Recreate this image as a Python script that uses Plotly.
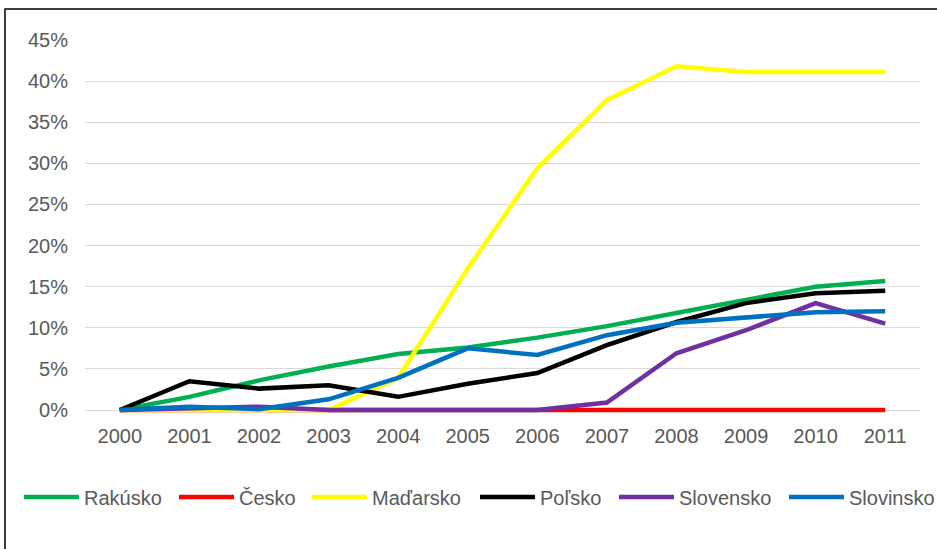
import plotly.graph_objects as go

years = ["2000", "2001", "2002", "2003", "2004", "2005", "2006", "2007", "2008", "2009", "2010", "2011"]

rakusko = [0.0, 1.6, 3.6, 5.3, 6.8, 7.6, 8.8, 10.2, 11.8, 13.4, 15.0, 15.7]
cesko = [0.0, 0.0, 0.0, 0.0, 0.0, 0.0, 0.0, 0.0, 0.0, 0.0, 0.0, 0.0]
madarsko = [0.0, 0.0, 0.0, 0.0, 3.9, 17.2, 29.4, 37.7, 41.8, 41.1, 41.1, 41.1]
polsko = [0.0, 3.5, 2.6, 3.0, 1.6, 3.2, 4.5, 7.9, 10.7, 13.0, 14.2, 14.5]
slovensko = [0.0, 0.2, 0.4, 0.0, 0.0, 0.0, 0.0, 0.9, 6.9, 9.7, 13.0, 10.5]
slovinsko = [0.0, 0.4, 0.1, 1.3, 3.9, 7.5, 6.7, 9.1, 10.6, 11.3, 11.9, 12.0]

series_names = ["Rakúsko", "Česko", "Maďarsko", "Poľsko", "Slovensko", "Slovinsko"]
series_values = [rakusko, cesko, madarsko, polsko, slovensko, slovinsko]
series_colors = ["#00b050", "#ff0000", "#ffff00", "#000000", "#7030a0", "#0070c0"]
legend_left_px = [19, 174, 307, 475, 614, 784]

W, H = 937, 549
L, R, T = 85, 17, 40
ZERO_PX = 410          # pixel row of the 0% line
PAD_BELOW = 4          # extra plot room below 0 so the thick lines at 0 are not clipped
B = H - ZERO_PX - PAD_BELOW
pw = W - L - R
ph0 = ZERO_PX - T      # pixel height of 0..45%
y_top = 0.45
y_bottom = -PAD_BELOW / ph0 * y_top
ph = H - T - B

def px_to_paper_x(px):
    return (px - L) / pw

def px_to_paper_y(py):
    return (H - B - py) / ph

font = dict(family="Liberation Sans, Arial, sans-serif", size=20, color="#595959")

fig = go.Figure()
legends = {}
for i, (name, vals, col, lx) in enumerate(zip(series_names, series_values, series_colors, legend_left_px)):
    key = "legend" if i == 0 else f"legend{i + 1}"
    fig.add_trace(go.Scatter(
        x=years, y=[v / 100 for v in vals], name=name, mode="lines",
        line=dict(color=col, width=4.5), legend=key,
    ))
    legends[key] = dict(
        orientation="h", x=px_to_paper_x(lx), xanchor="left",
        y=px_to_paper_y(497), yanchor="middle",
        font=font, itemwidth=55, bgcolor="rgba(0,0,0,0)",
    )

fig.update_layout(
    width=W, height=H,
    margin=dict(l=L, r=R, t=T, b=B, pad=0, autoexpand=False),
    paper_bgcolor="white", plot_bgcolor="white",
    font=font,
    showlegend=True,
    xaxis=dict(
        type="category", range=[-0.5, 11.5], showgrid=False, zeroline=False,
        showline=False, ticks="", tickfont=font, ticklabelstandoff=12 - PAD_BELOW,
    ),
    yaxis=dict(
        range=[y_bottom, y_top], dtick=0.05, tick0=0, tickformat=".0%",
        tickmode="linear",
        showgrid=True, gridcolor="#d9d9d9", gridwidth=1,
        zeroline=False, showline=False, ticks="", tickfont=font,
        ticklabelstandoff=16,
    ),
    shapes=[dict(
        type="rect", xref="paper", yref="paper",
        x0=px_to_paper_x(5), x1=px_to_paper_x(960),
        y0=px_to_paper_y(580), y1=px_to_paper_y(9),
        line=dict(color="black", width=1.5), fillcolor="rgba(0,0,0,0)",
        layer="below",
    )],
    **legends,
)

fig.write_html("out.html")
